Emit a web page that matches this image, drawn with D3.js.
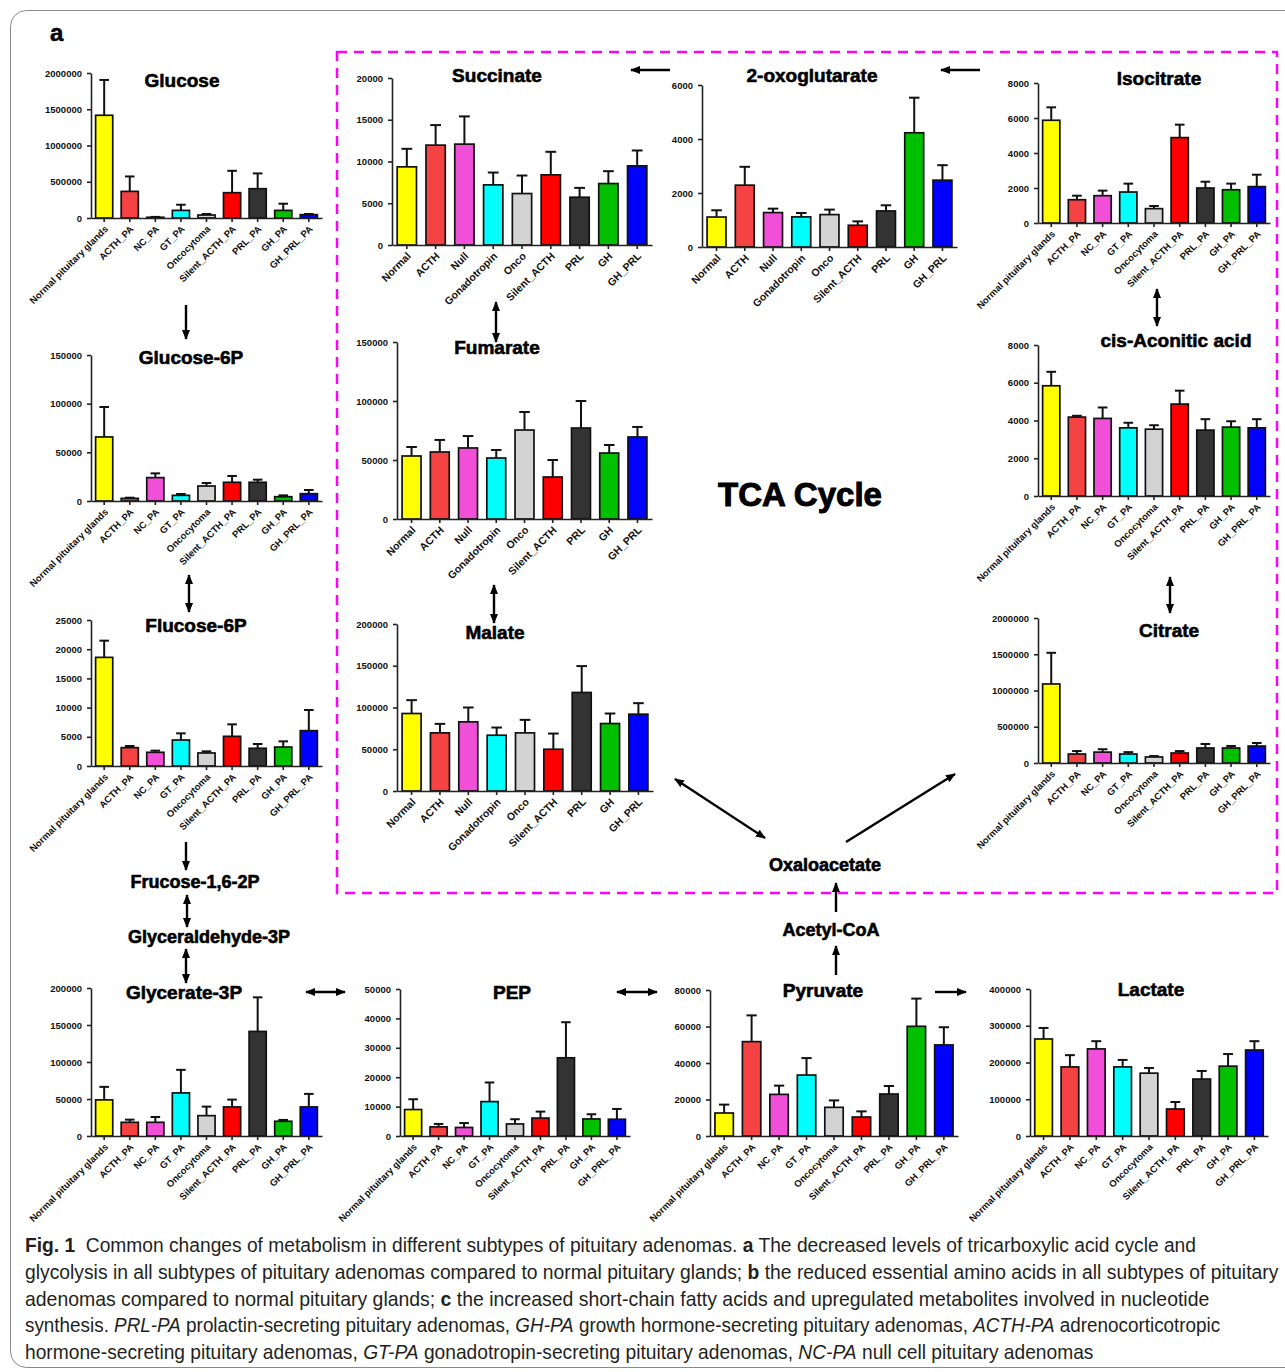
<!DOCTYPE html>
<html>
<head>
<meta charset="utf-8">
<script src="https://cdn.jsdelivr.net/npm/d3@7"></script>
<style>
  html, body { margin: 0; padding: 0; background: #fff; }
  svg { display: block; }
</style>
</head>
<body>
<svg id="fig" width="1285" height="1372"></svg>
<script>
// ---- group labels and colours ----
const groupsLong = ["Normal pituitary glands", "ACTH_PA", "NC_PA", "GT_PA", "Oncocytoma",
                    "Silent_ACTH_PA", "PRL_PA", "GH_PA", "GH_PRL_PA"];
const groupsShort = ["Normal", "ACTH", "Null", "Gonadotropin", "Onco",
                     "Silent_ACTH", "PRL", "GH", "GH_PRL"];
const groupColors = ["#ffff00", "#f54242", "#f24fd9", "#00ffff", "#d3d3d3",
                     "#ff0000", "#333333", "#00c000", "#0000ff"];

// ---- metabolite levels (mean) and upper error (SEM) per group ----
const glucoseMean = [1417000, 367000, 10000, 105000, 41000, 349000, 404000, 105000, 46000];
const glucoseErr  = [487000, 206000, 5000, 78000, 14000, 302000, 211000, 92000, 9000];

const glucose6pMean = [65800, 2700, 24000, 5800, 15400, 19200, 19200, 4400, 7500];
const glucose6pErr  = [30800, 700, 4400, 1400, 3100, 6500, 2700, 1400, 3800];

const flucose6pMean = [18600, 3140, 2340, 4450, 2230, 5080, 3030, 3250, 6050];
const flucose6pErr  = [2860, 280, 290, 1140, 280, 2050, 740, 970, 3540];

const glycerate3pMean = [48800, 18500, 18500, 58200, 27500, 39300, 141300, 19900, 39300];
const glycerate3pErr  = [17600, 3600, 7200, 31200, 12200, 9900, 46100, 1800, 17600];

const pepMean = [9000, 3100, 2900, 11700, 4100, 6100, 26600, 5800, 5700];
const pepErr  = [3500, 1000, 1500, 6500, 1600, 2200, 12100, 1600, 3500];

const pyruvateMean = [12600, 51700, 22800, 33400, 15700, 10400, 23000, 60100, 49900];
const pyruvateErr  = [4600, 14400, 4800, 9300, 3800, 3100, 4400, 15200, 9700];

const lactateMean = [264000, 188000, 237000, 188000, 171000, 73500, 155000, 190000, 234000];
const lactateErr  = [30000, 32000, 21000, 19000, 14000, 19000, 22000, 33000, 24000];

const succinateMean = [9360, 11960, 12080, 7200, 6160, 8400, 5720, 7360, 9480];
const succinateErr  = [2160, 2400, 3320, 1480, 2160, 2760, 1120, 1480, 1840];

const oxoglutarateMean = [1110, 2290, 1275, 1115, 1200, 805, 1335, 4230, 2475];
const oxoglutarateErr  = [250, 680, 145, 145, 185, 145, 210, 1300, 555];

const isocitrateMean = [5870, 1330, 1560, 1770, 820, 4880, 2000, 1900, 2080];
const isocitrateErr  = [740, 230, 290, 480, 150, 740, 360, 350, 680];

const fumarateMean = [53400, 56800, 60200, 51700, 75400, 35600, 77100, 55900, 69500];
const fumarateErr  = [7600, 10200, 10100, 6800, 15300, 14400, 22900, 6800, 8500];

const malateMean = [92800, 69600, 82800, 66800, 69600, 50000, 118000, 80800, 92000];
const malateErr  = [16000, 10800, 17200, 9200, 15600, 18800, 31600, 12000, 13200];

const aconitateMean = [5840, 4180, 4110, 3610, 3540, 4870, 3490, 3650, 3610];
const aconitateErr  = [740, 70, 580, 270, 210, 710, 580, 310, 460];

const citrateMean = [1090000, 124000, 150000, 124000, 83000, 138000, 207000, 207000, 234000];
const citrateErr  = [430000, 41000, 40000, 26000, 13000, 27000, 55000, 27000, 42000];

// ---- panel placement on the page ----
const panels = [
  { title: "Glucose",        mean: glucoseMean,      err: glucoseErr,      groups: groupsLong,  max: 2000000, step: 500000, x0: 91,   x1: 322,  yTop: 73,  y0: 218,  tx: 182,  ty: 80 },
  { title: "Glucose-6P",     mean: glucose6pMean,    err: glucose6pErr,    groups: groupsLong,  max: 150000,  step: 50000,  x0: 91,   x1: 322,  yTop: 355, y0: 501,  tx: 191,  ty: 357 },
  { title: "Flucose-6P",     mean: flucose6pMean,    err: flucose6pErr,    groups: groupsLong,  max: 25000,   step: 5000,   x0: 91,   x1: 322,  yTop: 620, y0: 766,  tx: 196,  ty: 625 },
  { title: "Glycerate-3P",   mean: glycerate3pMean,  err: glycerate3pErr,  groups: groupsLong,  max: 200000,  step: 50000,  x0: 91,   x1: 322,  yTop: 988, y0: 1136, tx: 184,  ty: 992 },
  { title: "PEP",            mean: pepMean,          err: pepErr,          groups: groupsLong,  max: 50000,   step: 10000,  x0: 400,  x1: 630,  yTop: 989, y0: 1136, tx: 512,  ty: 992 },
  { title: "Pyruvate",       mean: pyruvateMean,     err: pyruvateErr,     groups: groupsLong,  max: 80000,   step: 20000,  x0: 710,  x1: 958,  yTop: 990, y0: 1136, tx: 823,  ty: 990 },
  { title: "Lactate",        mean: lactateMean,      err: lactateErr,      groups: groupsLong,  max: 400000,  step: 100000, x0: 1030, x1: 1268, yTop: 989, y0: 1136, tx: 1151, ty: 989 },
  { title: "Succinate",      mean: succinateMean,    err: succinateErr,    groups: groupsShort, max: 20000,   step: 5000,   x0: 392,  x1: 652,  yTop: 78,  y0: 245,  tx: 497,  ty: 75 },
  { title: "2-oxoglutarate", mean: oxoglutarateMean, err: oxoglutarateErr, groups: groupsShort, max: 6000,    step: 2000,   x0: 702,  x1: 957,  yTop: 85,  y0: 247,  tx: 812,  ty: 75 },
  { title: "Isocitrate",     mean: isocitrateMean,   err: isocitrateErr,   groups: groupsLong,  max: 8000,    step: 2000,   x0: 1038, x1: 1270, yTop: 83,  y0: 223,  tx: 1159, ty: 78 },
  { title: "Fumarate",       mean: fumarateMean,     err: fumarateErr,     groups: groupsShort, max: 150000,  step: 50000,  x0: 397,  x1: 652,  yTop: 342, y0: 519,  tx: 497,  ty: 347 },
  { title: "Malate",         mean: malateMean,       err: malateErr,       groups: groupsShort, max: 200000,  step: 50000,  x0: 397,  x1: 653,  yTop: 624, y0: 791,  tx: 495,  ty: 632 },
  { title: "cis-Aconitic acid", mean: aconitateMean, err: aconitateErr,    groups: groupsLong,  max: 8000,    step: 2000,   x0: 1038, x1: 1270, yTop: 345, y0: 496,  tx: 1176, ty: 340 },
  { title: "Citrate",        mean: citrateMean,      err: citrateErr,      groups: groupsLong,  max: 2000000, step: 500000, x0: 1038, x1: 1270, yTop: 618, y0: 763,  tx: 1169, ty: 630 }
];

const FONT = "'Liberation Sans', Arial, Helvetica, sans-serif";
const svg = d3.select("#fig");

// outer frame of the figure
svg.append("rect")
  .attr("x", 10.5).attr("y", 10.5).attr("width", 1300).attr("height", 1357)
  .attr("rx", 16).attr("fill", "none").attr("stroke", "#8a8a8a").attr("stroke-width", 1);

svg.append("text").attr("x", 50).attr("y", 41)
  .attr("font-family", FONT).attr("font-weight", "bold").attr("font-size", 24)
  .attr("stroke", "#000").attr("stroke-width", 0.5)
  .text("a");

// TCA cycle enclosure
svg.append("rect")
  .attr("x", 337).attr("y", 52).attr("width", 940).attr("height", 841)
  .attr("fill", "none").attr("stroke", "#ff00ff").attr("stroke-width", 2.5)
  .attr("stroke-dasharray", "10,7");

function drawPanel(p) {
  const g = svg.append("g").attr("font-family", FONT);
  const x = d3.scaleBand().domain(p.groups).range([p.x0, p.x1])
    .paddingInner(0.33).paddingOuter(0.18);
  const y = d3.scaleLinear().domain([0, p.max]).range([p.y0, p.yTop]);
  const rows = p.mean.map((m, i) => ({ g: p.groups[i], m, e: p.err[i], c: groupColors[i] }));
  const bw = x.bandwidth();

  // error bars (upper only)
  const eb = g.append("g").attr("stroke", "#111").attr("stroke-width", 2);
  eb.selectAll("line.v").data(rows).join("line").attr("class", "v")
    .attr("x1", d => x(d.g) + bw / 2).attr("x2", d => x(d.g) + bw / 2)
    .attr("y1", d => y(d.m)).attr("y2", d => y(d.m + d.e));
  eb.selectAll("line.c").data(rows).join("line").attr("class", "c")
    .attr("x1", d => x(d.g) + bw * 0.22).attr("x2", d => x(d.g) + bw * 0.78)
    .attr("y1", d => y(d.m + d.e)).attr("y2", d => y(d.m + d.e));

  // bars
  g.append("g").selectAll("rect").data(rows).join("rect")
    .attr("x", d => x(d.g)).attr("y", d => y(d.m))
    .attr("width", bw).attr("height", d => p.y0 - y(d.m))
    .attr("fill", d => d.c).attr("stroke", "#111").attr("stroke-width", 1.7);

  // y axis
  const ya = g.append("g").attr("transform", `translate(${p.x0},0)`)
    .call(d3.axisLeft(y).tickValues(d3.range(0, p.max + p.step / 2, p.step))
      .tickFormat(d3.format("d")).tickSize(4).tickSizeOuter(0).tickPadding(5));
  ya.selectAll("text").attr("font-size", 9.5).attr("font-weight", "bold").attr("fill", "#111");
  ya.selectAll("line, path").attr("stroke", "#222").attr("stroke-width", 1.6);
  ya.attr("font-family", null);

  // x axis with slanted group labels
  const short = p.groups === groupsShort;
  const xa = g.append("g").attr("transform", `translate(0,${p.y0})`)
    .call(d3.axisBottom(x).tickSize(4).tickSizeOuter(0));
  xa.selectAll("line, path").attr("stroke", "#222").attr("stroke-width", 1.6);
  xa.selectAll("text")
    .attr("font-size", short ? 10.5 : 9.5).attr("font-weight", "bold").attr("fill", "#111")
    .attr("text-anchor", "end").attr("x", -5).attr("y", 8).attr("dy", "0.35em")
    .attr("transform", "rotate(-45)");
  xa.attr("font-family", null);

  // title
  g.append("text").attr("x", p.tx).attr("y", p.ty + 7)
    .attr("text-anchor", "middle").attr("font-size", 19).attr("font-weight", "bold")
    .attr("stroke", "#000").attr("stroke-width", 0.6)
    .text(p.title);
}
panels.forEach(drawPanel);

// pathway labels
const pathLabels = [
  { t: "TCA Cycle",         x: 800, y: 506, s: 33 },
  { t: "Frucose-1,6-2P",    x: 195, y: 888, s: 18 },
  { t: "Glyceraldehyde-3P", x: 209, y: 943, s: 18 },
  { t: "Oxaloacetate",      x: 825, y: 871, s: 18 },
  { t: "Acetyl-CoA",        x: 831, y: 936, s: 18 }
];
svg.append("g").attr("font-family", FONT).attr("font-weight", "bold")
  .attr("stroke", "#000").attr("stroke-width", 0.6)
  .selectAll("text").data(pathLabels).join("text")
  .attr("x", d => d.x).attr("y", d => d.y).attr("font-size", d => d.s)
  .attr("stroke-width", d => d.s > 20 ? 1 : 0.6)
  .attr("text-anchor", "middle").text(d => d.t);

// arrows between metabolites
const defs = svg.append("defs");
defs.append("marker").attr("id", "ah")
  .attr("viewBox", "0 0 10 8").attr("refX", 9).attr("refY", 4)
  .attr("markerUnits", "userSpaceOnUse").attr("markerWidth", 10).attr("markerHeight", 8)
  .attr("orient", "auto-start-reverse")
  .append("path").attr("d", "M0,0 L10,4 L0,8 Z").attr("fill", "#000");

const arrows = [
  { a: [186, 305], b: [186, 339], two: false },
  { a: [189, 575], b: [189, 612], two: true },
  { a: [186, 842], b: [186, 870], two: false },
  { a: [187, 895], b: [187, 927], two: true },
  { a: [186, 949], b: [186, 983], two: true },
  { a: [306, 992], b: [345, 992], two: true },
  { a: [617, 992], b: [657, 992], two: true },
  { a: [935, 992], b: [966, 992], two: false },
  { a: [836, 975], b: [836, 946], two: false },
  { a: [836, 912], b: [836, 883], two: false },
  { a: [765, 838], b: [675, 779], two: true },
  { a: [846, 842], b: [955, 774], two: false },
  { a: [1170, 577], b: [1170, 613], two: true },
  { a: [1157, 289], b: [1157, 326], two: true },
  { a: [980, 70],  b: [941, 70],  two: false },
  { a: [670, 70],  b: [631, 70],  two: false },
  { a: [496, 302], b: [496, 342], two: true },
  { a: [494, 585], b: [494, 623], two: true }
];
svg.append("g").selectAll("line").data(arrows).join("line")
  .attr("x1", d => d.a[0]).attr("y1", d => d.a[1])
  .attr("x2", d => d.b[0]).attr("y2", d => d.b[1])
  .attr("stroke", "#000").attr("stroke-width", 2.4)
  .attr("marker-end", "url(#ah)")
  .attr("marker-start", d => d.two ? "url(#ah)" : null);

// caption (condensed setting: glyphs narrowed to each line's measure)
const captionLines = [
  { y: 1252, w: 1172, parts: [["b", "Fig. 1"], ["", "  Common changes of metabolism in different subtypes of pituitary adenomas. "], ["b", "a"], ["", " The decreased levels of tricarboxylic acid cycle and"]] },
  { y: 1279, w: 1254, parts: [["", "glycolysis in all subtypes of pituitary adenomas compared to normal pituitary glands; "], ["b", "b"], ["", " the reduced essential amino acids in all subtypes of pituitary"]] },
  { y: 1306, w: 1185, parts: [["", "adenomas compared to normal pituitary glands; "], ["b", "c"], ["", " the increased short-chain fatty acids and upregulated metabolites involved in nucleotide"]] },
  { y: 1332, w: 1196, parts: [["", "synthesis. "], ["i", "PRL-PA"], ["", " prolactin-secreting pituitary adenomas, "], ["i", "GH-PA"], ["", " growth hormone-secreting pituitary adenomas, "], ["i", "ACTH-PA"], ["", " adrenocorticotropic"]] },
  { y: 1359, w: 1069, parts: [["", "hormone-secreting pituitary adenomas, "], ["i", "GT-PA"], ["", " gonadotropin-secreting pituitary adenomas, "], ["i", "NC-PA"], ["", " null cell pituitary adenomas"]] }
];
captionLines.forEach(line => {
  const g = svg.append("g");
  const t = g.append("text").attr("x", 0).attr("y", 0)
    .attr("font-family", "'Liberation Sans Narrow', 'Liberation Sans', Arial, sans-serif")
    .attr("font-size", 21).attr("fill", "#231f20")
    .style("white-space", "pre");
  line.parts.forEach(([f, s]) => {
    t.append("tspan")
      .attr("font-weight", f === "b" ? "bold" : null)
      .attr("font-style", f === "i" ? "italic" : null)
      .text(s);
  });
  const w = t.node().getComputedTextLength();
  g.attr("transform", `translate(25,${line.y}) scale(${line.w / w},1)`);
});
</script>
</body>
</html>
